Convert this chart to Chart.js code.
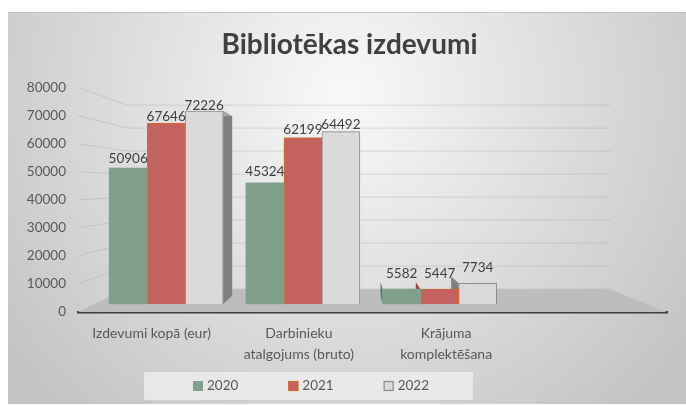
<!DOCTYPE html>
<html><head><meta charset="utf-8">
<script src="https://cdn.jsdelivr.net/npm/chart.js@4.4.1/dist/chart.umd.min.js"></script>
<style>html,body{margin:0;padding:0;background:#fff;}#wrap{width:686px;height:405px;position:relative;}</style>
</head><body><div id="wrap"><canvas id="c" width="686" height="405"></canvas></div>
<script>
// ---- data ----
const categories = ["Izdevumi kopā (eur)", ["Darbinieku", "atalgojums (bruto)"], ["Krājuma", "komplektēšana"], ""];
const seriesNames = ["2020", "2021", "2022"];
const values2020 = [50906, 45324, 5582];
const values2021 = [67646, 62199, 5447];
const values2022 = [72226, 64492, 7734];
const yTickValues = [0, 10000, 20000, 30000, 40000, 50000, 60000, 70000, 80000];
const chartTitle = "Bibliotēkas izdevumi";

// ---- styles ----
const seriesValues = [values2020, values2021, values2022];
const fills = ['#80A08B', '#C3625F', '#DADADA'];
const borders = ['#80A08B', '#D4692E', '#8C8C8C'];
const borderWidths = [0, 1, 1];
const sideFills = ['#5E7C69', '#9A4744', '#7F7F7F'];
const topFills = ['#5F7E6A', '#A24B47', '#A8A8A8'];
const V = {x: 352, y: 185};   // vanishing point of the 3D view
const wallDepth = 0.18, barDepth = 0.07;
const proj = (x, y, d) => ({x: x + (V.x - x) * d, y: y + (V.y - y) * d});

Chart.defaults.font.family = 'Lato';

function poly(ctx, pts, fill) {
  ctx.beginPath();
  ctx.moveTo(pts[0].x, pts[0].y);
  for (let i = 1; i < pts.length; i++) ctx.lineTo(pts[i].x, pts[i].y);
  ctx.closePath();
  ctx.fillStyle = fill; ctx.fill();
}

const deco = {
  id: 'deco',
  afterLayout(chart) {
    // title is centred on the full panel, not on the plot
    chart.titleBlock.left += 24;
  },
  beforeDraw(chart) {
    const ctx = chart.ctx;
    ctx.save();
    const g = ctx.createRadialGradient(345, 95, 0, 345, 95, 420);
    g.addColorStop(0, '#f9f9f9');
    g.addColorStop(1, '#c4c4c4');
    ctx.fillStyle = g;
    ctx.fillRect(8, 12, 678, 392);
    ctx.strokeStyle = '#c2c2c2'; ctx.lineWidth = 1;
    ctx.beginPath(); ctx.moveTo(8, 12.5); ctx.lineTo(686, 12.5); ctx.stroke();
    // legend frame
    ctx.fillStyle = 'rgba(236,236,236,0.85)';
    ctx.fillRect(144, 372, 329, 28);
    ctx.restore();
  },
  beforeDatasetsDraw(chart) {
    const ctx = chart.ctx, area = chart.chartArea, ys = chart.scales.y;
    ctx.save();
    // wall grid lines
    ctx.strokeStyle = 'rgba(160,160,160,0.35)'; ctx.lineWidth = 1;
    yTickValues.forEach(t => {
      const yf = ys.getPixelForValue(t);
      const b = proj(area.left, yf, wallDepth), c = proj(area.right, yf, wallDepth);
      ctx.beginPath(); ctx.moveTo(area.left, yf); ctx.lineTo(b.x, b.y); ctx.lineTo(c.x, c.y); ctx.stroke();
    });
    // floor
    const y0 = ys.getPixelForValue(0);
    poly(ctx, [{x: area.left, y: y0}, {x: area.right, y: y0}, proj(area.right, y0, wallDepth), proj(area.left, y0, wallDepth)], '#bdbdbd');
    // 3D faces of bars
    chart.data.datasets.forEach((ds, s) => {
      chart.getDatasetMeta(s).data.forEach(bar => {
        const p = bar.getProps(['x', 'y', 'base', 'width'], true);
        const L = p.x - p.width / 2, R = p.x + p.width / 2, T = p.y, B = p.base;
        if (V.x > R) poly(ctx, [{x: R, y: T}, proj(R, T, barDepth), proj(R, B, barDepth), {x: R, y: B}], sideFills[s]);
        if (V.x < L) poly(ctx, [{x: L, y: T}, proj(L, T, barDepth), proj(L, B, barDepth), {x: L, y: B}], sideFills[s]);
        if (V.y > T) poly(ctx, [{x: L, y: T}, {x: R, y: T}, proj(R, T, barDepth), proj(L, T, barDepth)], topFills[s]);
      });
    });
    ctx.restore();
  },
  afterDatasetsDraw(chart) {
    const ctx = chart.ctx;
    ctx.save();
    ctx.font = '13.5px Lato'; ctx.fillStyle = '#404040';
    ctx.textAlign = 'center'; ctx.textBaseline = 'middle';
    chart.data.datasets.forEach((ds, s) => {
      chart.getDatasetMeta(s).data.forEach((bar, i) => {
        const p = bar.getProps(['x', 'y'], true);
        const ly = V.y > p.y ? proj(p.x, p.y, barDepth).y - 11 : p.y - 15.5;
        ctx.fillText(String(seriesValues[s][i]), p.x, ly);
      });
    });
    ctx.restore();
  },
  afterDraw(chart) {
    const ctx = chart.ctx;
    ctx.save();
    ctx.font = '13.5px Lato'; ctx.textBaseline = 'middle'; ctx.textAlign = 'left';
    const ds = chart.data.datasets;
    const widths = ds.map(d => 14 + ctx.measureText(d.label).width);
    const gap = 50;
    const total = widths.reduce((a, b) => a + b, 0) + gap * (ds.length - 1);
    let x = 311 - total / 2;
    const cy = 386;
    ds.forEach((d, s) => {
      ctx.fillStyle = fills[s];
      ctx.fillRect(x, cy - 5, 10, 10);
      if (borderWidths[s]) {
        ctx.strokeStyle = borders[s]; ctx.lineWidth = 1.2;
        ctx.strokeRect(x + 0.5, cy - 4.5, 9, 9);
      }
      ctx.fillStyle = '#595959';
      ctx.fillText(d.label, x + 14, cy);
      x += widths[s] + gap;
    });
    ctx.restore();
  }
};

new Chart(document.getElementById('c'), {
  type: 'bar',
  data: {
    labels: categories,
    datasets: seriesNames.map((name, s) => ({
      label: name,
      data: seriesValues[s].map((v, i) => ({x: i, y: v})),
      xAxisID: 'xb', yAxisID: 'yb',
      backgroundColor: fills[s],
      borderColor: borders[s],
      borderWidth: borderWidths[s],
      barThickness: 38
    }))
  },
  options: {
    responsive: false,
    animation: false,
    layout: {padding: {top: 12, left: 8, right: 19, bottom: 0}},
    plugins: {
      legend: {display: false},
      tooltip: {enabled: false},
      title: {
        display: true, text: chartTitle, color: '#404040',
        font: {family: 'Lato', size: 28, weight: 'bold'},
        padding: {top: 16, bottom: 26}
      }
    },
    scales: {
      x: {
        type: 'category', position: 'bottom', offset: true, z: 1,
        grid: {display: false},
        border: {display: true, color: '#3d3d3d', width: 2.5},
        ticks: {font: {size: 14, lineHeight: 1.5}, color: '#595959', padding: 3, maxRotation: 0, autoSkip: false},
        afterFit: a => { a.height = 93; }
      },
      y: {
        type: 'linear', position: 'left', min: 0, max: 80000,
        grid: {display: false}, border: {display: false},
        ticks: {font: {size: 13.5}, color: '#595959', padding: 4, callback: v => String(v)},
        afterBuildTicks: a => { a.ticks = yTickValues.map(v => ({value: v})); },
        afterFit: a => { a.width = 70; }
      },
      xb: {type: 'linear', axis: 'x', display: false, offset: false, bounds: 'data', grace: 0,
           min: -0.645, max: 3.663, ticks: {stepSize: 1, includeBounds: false}},
      yb: {type: 'linear', axis: 'y', display: false, min: -3000, max: 81000}
    }
  },
  plugins: [deco]
});
</script></body></html>
